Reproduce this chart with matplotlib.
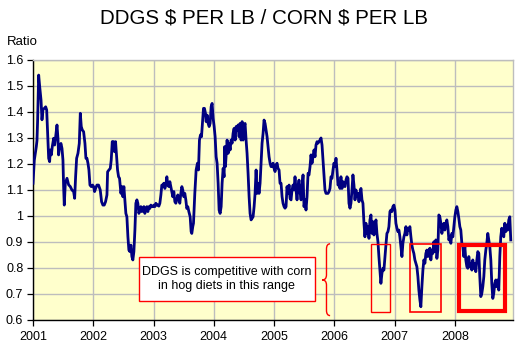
import matplotlib
matplotlib.use("Agg")
import matplotlib.pyplot as plt
from matplotlib.patches import Rectangle, PathPatch
from matplotlib.path import Path

plt.rcParams['font.family'] = ['Liberation Sans', 'DejaVu Sans']

# ---------------- data (decimal years, ratio) ----------------
dates_2001 = [2001.000, 2001.022, 2001.055, 2001.066, 2001.077, 2001.094, 2001.110, 2001.133, 2001.149, 2001.166,
              2001.188, 2001.210, 2001.227, 2001.243, 2001.260, 2001.276, 2001.287, 2001.304, 2001.320, 2001.343,
              2001.359, 2001.376, 2001.398, 2001.414, 2001.425, 2001.442, 2001.464, 2001.481, 2001.497, 2001.508,
              2001.519, 2001.536, 2001.564, 2001.591, 2001.619, 2001.646, 2001.674, 2001.691, 2001.707, 2001.724,
              2001.746, 2001.768, 2001.785, 2001.801, 2001.818, 2001.840, 2001.862, 2001.878, 2001.895, 2001.912,
              2001.928, 2001.945, 2001.967, 2001.989]
ratio_2001 = [1.126, 1.215, 1.267, 1.290, 1.370, 1.542, 1.500, 1.446, 1.370, 1.410,
              1.414, 1.420, 1.408, 1.318, 1.222, 1.209, 1.254, 1.235, 1.267, 1.299,
              1.273, 1.305, 1.350, 1.299, 1.235, 1.267, 1.279, 1.260, 1.215, 1.113,
              1.042, 1.126, 1.145, 1.120, 1.113, 1.100, 1.094, 1.068, 1.151, 1.222,
              1.241, 1.279, 1.395, 1.344, 1.331, 1.324, 1.279, 1.222, 1.222, 1.203,
              1.177, 1.119, 1.113, 1.119]

dates_2002 = [2002.006, 2002.022, 2002.039, 2002.061, 2002.088, 2002.116, 2002.138, 2002.160, 2002.182, 2002.204,
              2002.227, 2002.238, 2002.260, 2002.282, 2002.298, 2002.315, 2002.331, 2002.337, 2002.354, 2002.370,
              2002.387, 2002.403, 2002.420, 2002.436, 2002.459, 2002.475, 2002.492, 2002.508, 2002.525, 2002.541,
              2002.558, 2002.575, 2002.591, 2002.608, 2002.624, 2002.641, 2002.657, 2002.674, 2002.691, 2002.707,
              2002.724, 2002.740, 2002.757, 2002.773, 2002.790, 2002.807, 2002.823, 2002.840, 2002.856, 2002.873,
              2002.890, 2002.906, 2002.923, 2002.939, 2002.956, 2002.972, 2002.989]
ratio_2002 = [1.113, 1.094, 1.106, 1.119, 1.119, 1.100, 1.055, 1.042, 1.042, 1.055,
              1.081, 1.170, 1.177, 1.183, 1.215, 1.286, 1.273, 1.286, 1.247, 1.286,
              1.228, 1.177, 1.151, 1.145, 1.087, 1.113, 1.074, 1.113, 1.062, 1.010,
              0.997, 0.920, 0.869, 0.863, 0.888, 0.844, 0.831, 0.863, 0.946, 1.049,
              1.062, 1.049, 1.010, 1.023, 1.036, 1.017, 1.029, 1.036, 1.010, 1.029,
              1.036, 1.017, 1.036, 1.029, 1.042, 1.036, 1.036]

dates_2003 = [2003.006, 2003.022, 2003.039, 2003.055, 2003.072, 2003.088, 2003.105, 2003.122, 2003.138, 2003.155,
              2003.171, 2003.188, 2003.204, 2003.221, 2003.238, 2003.254, 2003.271, 2003.287, 2003.304, 2003.320,
              2003.337, 2003.354, 2003.370, 2003.387, 2003.403, 2003.420, 2003.436, 2003.453, 2003.470, 2003.486,
              2003.503, 2003.519, 2003.536, 2003.552, 2003.569, 2003.586, 2003.608, 2003.624, 2003.635, 2003.652,
              2003.663, 2003.685, 2003.707, 2003.729, 2003.746, 2003.762, 2003.779, 2003.796, 2003.812, 2003.829,
              2003.845, 2003.862, 2003.873, 2003.890, 2003.906, 2003.923, 2003.939, 2003.956, 2003.972, 2003.989]
ratio_2003 = [1.042, 1.036, 1.049, 1.042, 1.042, 1.038, 1.049, 1.081, 1.119, 1.113,
              1.126, 1.106, 1.119, 1.151, 1.119, 1.113, 1.132, 1.113, 1.094, 1.074,
              1.094, 1.055, 1.049, 1.062, 1.081, 1.068, 1.049, 1.087, 1.113, 1.100,
              1.074, 1.087, 1.062, 1.029, 1.036, 1.017, 0.997, 0.940, 0.933, 0.960,
              0.972, 1.087, 1.177, 1.203, 1.177, 1.292, 1.312, 1.305, 1.356, 1.414,
              1.414, 1.395, 1.363, 1.388, 1.356, 1.344, 1.356, 1.420, 1.433, 1.376]

dates_2004 = [2004.006, 2004.022, 2004.039, 2004.055, 2004.072, 2004.088, 2004.105, 2004.122, 2004.138, 2004.155,
              2004.171, 2004.182, 2004.193, 2004.204, 2004.221, 2004.238, 2004.254, 2004.271, 2004.287, 2004.304,
              2004.320, 2004.337, 2004.354, 2004.370, 2004.387, 2004.403, 2004.420, 2004.436, 2004.453, 2004.470,
              2004.486, 2004.503, 2004.519, 2004.536, 2004.552, 2004.569, 2004.586, 2004.602, 2004.619, 2004.635,
              2004.652, 2004.669, 2004.685, 2004.702, 2004.718, 2004.735, 2004.751, 2004.768, 2004.785, 2004.801,
              2004.818, 2004.834, 2004.851, 2004.867, 2004.884, 2004.901, 2004.917, 2004.934, 2004.950, 2004.967,
              2004.983]
ratio_2004 = [1.344, 1.305, 1.228, 1.203, 1.126, 1.023, 1.010, 1.036, 1.126, 1.183,
              1.151, 1.267, 1.190, 1.228, 1.292, 1.241, 1.280, 1.254, 1.292, 1.280,
              1.318, 1.337, 1.292, 1.344, 1.331, 1.350, 1.305, 1.356, 1.292, 1.363,
              1.292, 1.344, 1.356, 1.292, 1.241, 1.164, 1.074, 1.010, 0.985, 0.991,
              0.997, 1.036, 1.087, 1.177, 1.087, 1.126, 1.087, 1.126, 1.203, 1.280,
              1.318, 1.369, 1.356, 1.331, 1.305, 1.267, 1.228, 1.203, 1.190, 1.190,
              1.203]

dates_2005 = [2005.000, 2005.017, 2005.033, 2005.050, 2005.066, 2005.083, 2005.099, 2005.116, 2005.133, 2005.149,
              2005.166, 2005.182, 2005.199, 2005.215, 2005.232, 2005.249, 2005.265, 2005.282, 2005.298, 2005.315,
              2005.331, 2005.348, 2005.365, 2005.381, 2005.398, 2005.414, 2005.431, 2005.448, 2005.464, 2005.481,
              2005.497, 2005.514, 2005.530, 2005.547, 2005.564, 2005.580, 2005.597, 2005.613, 2005.630, 2005.646,
              2005.663, 2005.680, 2005.696, 2005.713, 2005.729, 2005.746, 2005.762, 2005.779, 2005.796, 2005.812,
              2005.829, 2005.845, 2005.862, 2005.878, 2005.895, 2005.912, 2005.928, 2005.945, 2005.961, 2005.978,
              2005.994]
ratio_2005 = [1.183, 1.171, 1.196, 1.203, 1.183, 1.177, 1.126, 1.126, 1.074, 1.049,
              1.036, 1.030, 1.036, 1.113, 1.087, 1.119, 1.068, 1.062, 1.100, 1.119,
              1.100, 1.151, 1.100, 1.062, 1.113, 1.138, 1.094, 1.062, 1.113, 1.158,
              1.036, 1.062, 1.023, 1.074, 1.164, 1.158, 1.190, 1.235, 1.203, 1.228,
              1.254, 1.228, 1.273, 1.286, 1.280, 1.286, 1.292, 1.300, 1.273, 1.215,
              1.151, 1.100, 1.087, 1.087, 1.087, 1.094, 1.106, 1.151, 1.145, 1.177,
              1.203]

dates_2006 = [2006.011, 2006.028, 2006.044, 2006.061, 2006.077, 2006.094, 2006.110, 2006.127, 2006.144, 2006.160,
              2006.177, 2006.193, 2006.210, 2006.227, 2006.243, 2006.260, 2006.276, 2006.293, 2006.309, 2006.326,
              2006.343, 2006.359, 2006.376, 2006.392, 2006.409, 2006.425, 2006.442, 2006.459, 2006.475, 2006.492,
              2006.508, 2006.525, 2006.541, 2006.558, 2006.575, 2006.591, 2006.608, 2006.624, 2006.641, 2006.657,
              2006.674, 2006.691, 2006.707, 2006.724, 2006.740, 2006.757, 2006.773, 2006.790, 2006.807, 2006.823,
              2006.840, 2006.856, 2006.873, 2006.890, 2006.906, 2006.923, 2006.939, 2006.956, 2006.972, 2006.989]
ratio_2006 = [1.190, 1.222, 1.177, 1.119, 1.126, 1.106, 1.151, 1.106, 1.132, 1.119,
              1.113, 1.138, 1.151, 1.145, 1.049, 1.030, 1.049, 1.100, 1.158, 1.119,
              1.062, 1.100, 1.074, 1.087, 1.055, 1.087, 1.106, 1.062, 1.049, 0.972,
              0.920, 0.972, 0.933, 0.959, 0.914, 0.985, 1.004, 0.933, 0.978, 0.927,
              0.959, 0.985, 0.933, 0.901, 0.844, 0.792, 0.741, 0.779, 0.799, 0.792,
              0.844, 0.888, 0.933, 0.940, 0.959, 1.017, 1.023, 1.017, 1.036, 1.042]

dates_2007 = [2007.006, 2007.022, 2007.039, 2007.055, 2007.072, 2007.088, 2007.105, 2007.122, 2007.138, 2007.155,
              2007.171, 2007.188, 2007.204, 2007.221, 2007.238, 2007.254, 2007.271, 2007.287, 2007.304, 2007.320,
              2007.337, 2007.354, 2007.370, 2007.387, 2007.403, 2007.420, 2007.436, 2007.453, 2007.470, 2007.486,
              2007.503, 2007.519, 2007.536, 2007.552, 2007.569, 2007.586, 2007.602, 2007.619, 2007.635, 2007.652,
              2007.669, 2007.685, 2007.702, 2007.718, 2007.735, 2007.751, 2007.768, 2007.785, 2007.801, 2007.818,
              2007.834, 2007.851, 2007.867, 2007.884, 2007.901, 2007.917, 2007.934, 2007.950, 2007.967, 2007.983]
ratio_2007 = [1.023, 0.972, 0.953, 0.940, 0.946, 0.920, 0.882, 0.844, 0.895, 0.920,
              0.933, 0.959, 0.927, 0.953, 0.946, 0.959, 0.920, 0.888, 0.869, 0.856,
              0.831, 0.818, 0.805, 0.767, 0.715, 0.677, 0.651, 0.728, 0.792, 0.831,
              0.818, 0.856, 0.869, 0.844, 0.869, 0.876, 0.831, 0.869, 0.856, 0.901,
              0.863, 0.908, 0.837, 0.869, 1.004, 0.997, 0.972, 0.933, 0.959, 0.972,
              0.946, 0.972, 0.985, 0.959, 0.908, 0.920, 0.895, 0.933, 0.920, 0.959]

dates_2008 = [2008.000, 2008.017, 2008.033, 2008.050, 2008.066, 2008.083, 2008.099, 2008.116, 2008.133, 2008.149,
              2008.166, 2008.182, 2008.199, 2008.215, 2008.232, 2008.249, 2008.265, 2008.282, 2008.298, 2008.315,
              2008.331, 2008.348, 2008.365, 2008.381, 2008.398, 2008.414, 2008.431, 2008.448, 2008.464, 2008.481,
              2008.497, 2008.514, 2008.530, 2008.547, 2008.564, 2008.580, 2008.597, 2008.613, 2008.630, 2008.646,
              2008.663, 2008.680, 2008.696, 2008.713, 2008.729, 2008.746, 2008.762, 2008.779, 2008.796, 2008.812,
              2008.829, 2008.845, 2008.862, 2008.878, 2008.895, 2008.912, 2008.928]
ratio_2008 = [0.997, 1.023, 1.036, 1.017, 0.991, 0.959, 0.946, 0.895, 0.882, 0.844,
              0.882, 0.831, 0.805, 0.799, 0.844, 0.805, 0.818, 0.792, 0.831, 0.799,
              0.818, 0.786, 0.831, 0.863, 0.856, 0.767, 0.690, 0.703, 0.728, 0.767,
              0.831, 0.869, 0.895, 0.933, 0.908, 0.882, 0.831, 0.741, 0.683, 0.703,
              0.741, 0.754, 0.728, 0.754, 0.715, 0.844, 0.920, 0.953, 0.933, 0.920,
              0.972, 0.940, 0.965, 0.946, 0.985, 0.997, 0.908]

dates = dates_2001 + dates_2002 + dates_2003 + dates_2004 + dates_2005 + dates_2006 + dates_2007 + dates_2008
ratio = ratio_2001 + ratio_2002 + ratio_2003 + ratio_2004 + ratio_2005 + ratio_2006 + ratio_2007 + ratio_2008

year_ticks = [2001, 2002, 2003, 2004, 2005, 2006, 2007, 2008]
year_labels = ["2001", "2002", "2003", "2004", "2005", "2006", "2007", "2008"]
y_ticks = [0.6, 0.7, 0.8, 0.9, 1.0, 1.1, 1.2, 1.3, 1.4, 1.5, 1.6]
y_labels = ["0.6", "0.7", "0.8", "0.9", "1", "1.1", "1.2", "1.3", "1.4", "1.5", "1.6"]

title = "DDGS $ PER LB / CORN $ PER LB"
y_title = "Ratio"
note = "DDGS is competitive with corn\nin hog diets in this range"

# highlighted ranges: (start year, end year, low, high, line width)
highlight_x0 = [2006.61, 2007.262, 2008.075]
highlight_x1 = [2006.92, 2007.771, 2008.830]
highlight_lo = [0.630, 0.630, 0.633]
highlight_hi = [0.891, 0.891, 0.887]
highlight_lw = [1.0, 1.2, 3.0]

# ---------------- figure ----------------
W, H = 517, 350
fig = plt.figure(figsize=(W / 100, H / 100), dpi=100)
ax = fig.add_axes([33 / W, 30 / H, 480 / W, 260 / H])
ax.set_facecolor("#FFFFCC")

ax.set_xlim(2001, 2008.965)
ax.set_ylim(0.6, 1.6)
ax.set_xticks(year_ticks)
ax.set_xticklabels(year_labels)
ax.set_yticks(y_ticks)
ax.set_yticklabels(y_labels)
ax.grid(True, color="#BDBDBD", linewidth=1.0)
ax.set_axisbelow(True)
ax.tick_params(axis="both", direction="out", length=4, width=0.9, labelsize=9, colors="black")
ax.tick_params(axis="y", pad=3)
ax.tick_params(axis="x", pad=4)
for s in ["left", "bottom"]:
    ax.spines[s].set_color("black")
    ax.spines[s].set_linewidth(1.0)
for s in ["top", "right"]:
    ax.spines[s].set_color("#BDBDBD")
    ax.spines[s].set_linewidth(1.0)

ax.plot(dates, ratio, color="#000080", linewidth=2.0, solid_joinstyle="round", zorder=3)

for x0, x1, lo, hi, lw in zip(highlight_x0, highlight_x1, highlight_lo, highlight_hi, highlight_lw):
    ax.add_patch(Rectangle((x0, lo), x1 - x0, hi - lo, fill=False, edgecolor="#FF0000",
                           linewidth=lw, zorder=4))

# note box
box = Rectangle((2002.751, 0.674), 2005.682 - 2002.751, 0.841 - 0.674, facecolor="white",
                edgecolor="#FF0000", linewidth=1.0, zorder=5)
ax.add_patch(box)
ax.text((2002.751 + 2005.682) / 2, 0.7575, note, ha="center", va="center", fontsize=9,
        linespacing=1.25, zorder=6)

# curly brace
bx_tip, bx_mid, bx_end = 2005.80, 2005.87, 2005.93
b_top, b_bot, b_tip = 0.893, 0.617, 0.754
c = 0.02
verts = [
    (bx_end, b_top), (bx_mid, b_top), (bx_mid, b_top - c),
    (bx_mid, b_tip + c),
    (bx_mid, b_tip), (bx_tip, b_tip),
    (bx_mid, b_tip), (bx_mid, b_tip - c),
    (bx_mid, b_bot + c),
    (bx_mid, b_bot), (bx_end, b_bot),
]
codes = [Path.MOVETO, Path.CURVE3, Path.CURVE3, Path.LINETO, Path.CURVE3, Path.CURVE3,
         Path.CURVE3, Path.CURVE3, Path.LINETO, Path.CURVE3, Path.CURVE3]
ax.add_patch(PathPatch(Path(verts, codes), fill=False, edgecolor="#FF0000", linewidth=1.0, zorder=5))

fig.text(264 / W, 1 - 18 / H, title, ha="center", va="center", fontsize=14.8, parse_math=False)
fig.text(7 / W, 1 - 42 / H, y_title, ha="left", va="center", fontsize=9.5)

fig.savefig("out.png", dpi=100)
